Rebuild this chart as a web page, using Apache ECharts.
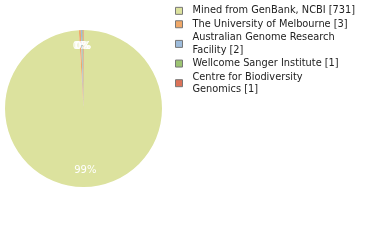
<!DOCTYPE html>
<html><head><meta charset="utf-8">
<script src="https://cdn.jsdelivr.net/npm/echarts@6/dist/echarts.min.js"></script>
<style>html,body{margin:0;padding:0;background:#fff}#c{width:380px;height:240px}</style>
</head><body><div id="c"></div>
<script>
const categories = ["Mined from GenBank, NCBI", "The University of Melbourne", "Australian Genome Research Facility", "Wellcome Sanger Institute", "Centre for Biodiversity Genomics"];
const legendLabels = ["Mined from GenBank, NCBI [731]", "The University of Melbourne [3]", "Australian Genome Research\nFacility [2]", "Wellcome Sanger Institute [1]", "Centre for Biodiversity\nGenomics [1]"];
const values = [731, 3, 2, 1, 1];
const colors = ["#dce29e", "#f0a868", "#9dbcdc", "#9cc472", "#dc7258"];

const data = categories.map((c, i) => ({name: c, value: values[i], itemStyle: {color: colors[i]}}));
const labelData = categories.map((c, i) => ({name: c, value: values[i], itemStyle: {color: 'rgba(0,0,0,0)'}}));
const chart = echarts.init(document.getElementById('c'), null, {renderer: 'canvas'});
chart.setOption({
  animation: false,
  legend: {
    orient: 'vertical', left: 175, top: 4.6, padding: 0,
    itemWidth: 7, itemHeight: 7, itemGap: 0.9,
    icon: 'rect',
    itemStyle: {borderColor: '#777', borderWidth: 1},
    textStyle: {fontFamily: 'DejaVu Sans', fontSize: 9.8, color: '#222', lineHeight: 12.5, padding: [0,0,0,5]},
    data: categories,
    formatter: name => legendLabels[categories.indexOf(name)]
  },
  series: [{
    type: 'pie', center: [83.5, 108.5], radius: [0, 78.5],
    startAngle: 90, clockwise: true, silent: true,
    label: {show: false}, labelLine: {show: false},
    data: data
  }, {
    type: 'pie', center: [83.5, 108.5], radius: [40, 78.5],
    startAngle: 90, clockwise: true, silent: true,
    percentPrecision: 4,
    label: {show: true, position: 'inside', formatter: p => Math.round(p.percent) + '%', color: '#fff', fontFamily: 'DejaVu Sans', fontSize: 10},
    labelLine: {show: false},
    labelLayout: {hideOverlap: false},
    data: labelData
  }]
});
</script></body></html>
